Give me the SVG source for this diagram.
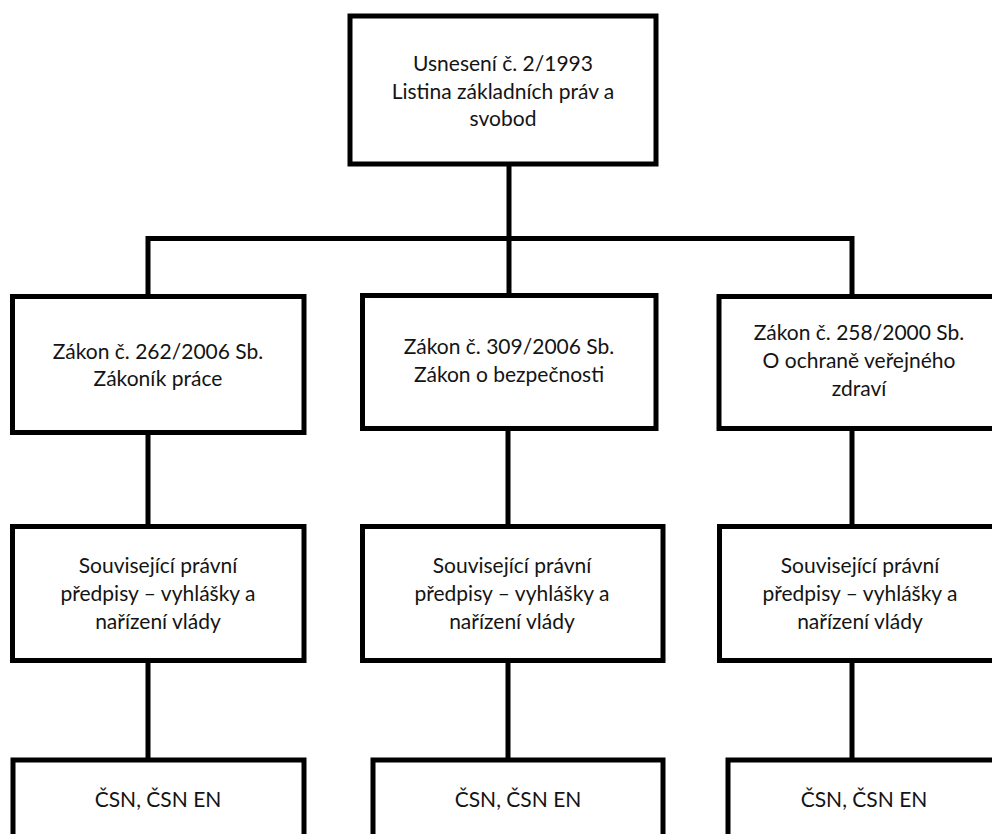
<svg xmlns="http://www.w3.org/2000/svg" width="992" height="834" viewBox="0 0 992 834">
<style>
  .box { fill: #ffffff; stroke: #000000; stroke-width: 5; }
  .conn { fill: none; stroke: #000000; stroke-width: 5; stroke-linejoin: miter; stroke-linecap: butt; }
  text { font-family: Lato, "Noto Sans", "Liberation Sans", sans-serif; font-size: 21px; fill: #141414; text-anchor: middle; }
</style>
<rect width="992" height="834" fill="#ffffff"/>
<g id="connectors">
  <path class="conn" d="M509,164 V238.5"/>
  <path class="conn" d="M148,296 V238.5 H852 V296"/>
  <path class="conn" d="M509,238.5 V295"/>
  <path class="conn" d="M148,432 V526"/>
  <path class="conn" d="M508,428 V526"/>
  <path class="conn" d="M852,428 V526"/>
  <path class="conn" d="M148,660 V760"/>
  <path class="conn" d="M508,660 V760"/>
  <path class="conn" d="M852,660 V760"/>
</g>
<g id="n-usneseni">
  <rect class="box" x="350" y="16" width="306" height="148"/>
  <text x="503" y="71">Usnesení č. 2/1993</text>
  <text x="503" y="98.5">Listina základních práv a</text>
  <text x="503" y="126">svobod</text>
</g>
<g id="n-zakon262">
  <rect class="box" x="12.5" y="296.5" width="291.5" height="136"/>
  <text x="158" y="358.5">Zákon č. 262/2006 Sb.</text>
  <text x="158" y="386">Zákoník práce</text>
</g>
<g id="n-zakon309">
  <rect class="box" x="362.5" y="295.5" width="293.5" height="133"/>
  <text x="509" y="354">Zákon č. 309/2006 Sb.</text>
  <text x="509" y="381.5">Zákon o bezpečnosti</text>
</g>
<g id="n-zakon258">
  <rect class="box" x="719" y="296.5" width="281" height="132"/>
  <text x="859" y="340">Zákon č. 258/2000 Sb.</text>
  <text x="859" y="368">O ochraně veřejného</text>
  <text x="859" y="396">zdraví</text>
</g>
<g id="n-predpisy1">
  <rect class="box" x="12.5" y="526.5" width="291.5" height="134"/>
  <text x="158" y="573">Související právní</text>
  <text x="158" y="600.5">předpisy – vyhlášky a</text>
  <text x="158" y="628.5">nařízení vlády</text>
</g>
<g id="n-predpisy2">
  <rect class="box" x="362.5" y="526.5" width="300.5" height="134"/>
  <text x="512" y="573">Související právní</text>
  <text x="512" y="600.5">předpisy – vyhlášky a</text>
  <text x="512" y="628.5">nařízení vlády</text>
</g>
<g id="n-predpisy3">
  <rect class="box" x="719.5" y="526.5" width="281" height="134"/>
  <text x="860" y="573">Související právní</text>
  <text x="860" y="600.5">předpisy – vyhlášky a</text>
  <text x="860" y="628.5">nařízení vlády</text>
</g>
<g id="n-csn1">
  <rect class="box" x="13" y="760" width="291" height="100"/>
  <text x="158" y="806.5">ČSN, ČSN EN</text>
</g>
<g id="n-csn2">
  <rect class="box" x="373" y="760" width="290" height="100"/>
  <text x="518" y="806.5">ČSN, ČSN EN</text>
</g>
<g id="n-csn3">
  <rect class="box" x="728" y="760" width="272" height="100"/>
  <text x="864" y="806.5">ČSN, ČSN EN</text>
</g>
</svg>
